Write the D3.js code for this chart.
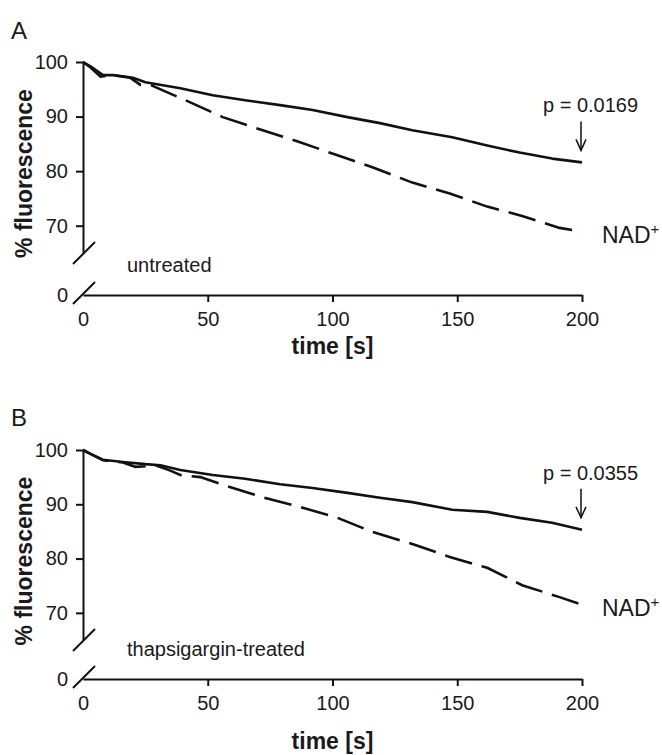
<!DOCTYPE html>
<html>
<head>
<meta charset="utf-8">
<script src="https://cdn.jsdelivr.net/npm/d3@7"></script>
<style>
  body { margin: 0; background: #fff; }
  svg { display: block; font-family: "Liberation Sans", Arial, sans-serif; }
  .axis path, .axis line { stroke: #111; stroke-width: 2; }
  .axis text { font-size: 20px; fill: #1a1a1a; }
</style>
</head>
<body>
<svg id="chart" width="662" height="755"></svg>
<script>
'use strict';

// tick values
var xTicks = [0, 50, 100, 150, 200];
var yTicks = [70, 80, 90, 100];

// panel A, untreated: [time s, % fluorescence]
var untreatedControl = [[0, 100], [3, 99.2], [8, 97.6], [12, 97.6], [20, 97.1], [25, 96.3],
  [39, 95.2], [52, 93.9], [65, 93.0], [79, 92.1], [92, 91.2], [106, 89.9], [119, 88.8],
  [132, 87.5], [148, 86.2], [162, 84.7], [175, 83.4], [188, 82.3], [200, 81.6]];
var untreatedNad = [[0, 100], [3, 99.0], [7, 97.3], [12, 97.6], [19, 97.1], [23, 95.8],
  [27, 95.8], [32, 94.8], [43, 92.6], [56, 89.9], [72, 87.5], [87, 85.3], [102, 82.9],
  [116, 80.7], [132, 77.9], [147, 75.9], [162, 73.5], [176, 71.8], [191, 69.6], [200, 68.9]];

// panel B, thapsigargin-treated
var thapsiControl = [[0, 100], [3, 99.3], [8, 98.2], [16, 97.8], [25, 97.4], [31, 97.2],
  [39, 96.3], [52, 95.4], [65, 94.7], [79, 93.7], [92, 93.0], [106, 92.1], [119, 91.2],
  [132, 90.4], [148, 89.0], [162, 88.6], [175, 87.5], [188, 86.6], [200, 85.3]];
var thapsiNad = [[0, 100], [3, 99.3], [8, 98.1], [16, 97.7], [21, 96.9], [25, 97.0],
  [29, 97.2], [35, 96.2], [39, 95.4], [47, 95.0], [56, 93.6], [72, 91.3], [87, 89.5],
  [102, 87.5], [116, 84.9], [132, 82.7], [147, 80.3], [162, 78.3], [176, 75.1],
  [191, 72.9], [200, 71.5]];

var panels = [
  { letter: 'A', note: 'untreated', p: 'p = 0.0169', solid: untreatedControl, dashed: untreatedNad,
    y100: 62, yBreak: 253, axisY: 295, titleY: 354, letterY: 39 },
  { letter: 'B', note: 'thapsigargin-treated', p: 'p = 0.0355', solid: thapsiControl, dashed: thapsiNad,
    y100: 450, yBreak: 640, axisY: 679, titleY: 749, letterY: 426 }
];

var svg = d3.select('#chart');
var axisX = 83;
var x = d3.scaleLinear().domain([0, 200]).range([axisX, 582]);

panels.forEach(function(pn) {
  var g = svg.append('g');
  var y = d3.scaleLinear().domain([65, 100]).range([pn.yBreak, pn.y100]);

  var line = d3.line()
    .x(function(d) { return x(d[0]); })
    .y(function(d) { return y(d[1]); });

  // y axis (upper segment)
  g.append('g').attr('class', 'axis')
    .attr('transform', 'translate(' + axisX + ',0)')
    .call(d3.axisLeft(y).tickValues(yTicks).tickSize(7).tickPadding(8).tickSizeOuter(0));

  // x axis
  var xa = g.append('g').attr('class', 'axis')
    .attr('transform', 'translate(0,' + pn.axisY + ')')
    .call(d3.axisBottom(x).tickValues(xTicks).tickSize(7).tickPadding(10).tickSizeOuter(0));
  xa.selectAll('.tick').filter(function(d) { return d === 0; }).select('line').remove();
  g.selectAll('.axis .domain').attr('fill', 'none');

  // axis break slashes
  [[pn.yBreak, 11, -11], [pn.axisY, 9, -13]].forEach(function(b) {
    g.append('line')
      .attr('x1', axisX - 10).attr('y1', b[0] + b[1])
      .attr('x2', axisX + 12).attr('y2', b[0] + b[2])
      .attr('stroke', '#111').attr('stroke-width', 2);
  });
  g.append('text').attr('x', 68).attr('y', pn.axisY).attr('dy', '0.35em')
    .attr('text-anchor', 'end').style('font-size', '20px').attr('fill', '#1a1a1a').text('0');

  // curves
  g.append('path').datum(pn.solid).attr('d', line)
    .attr('fill', 'none').attr('stroke', '#111').attr('stroke-width', 2.6)
    .attr('stroke-linejoin', 'round');
  g.append('path').datum(pn.dashed).attr('d', line)
    .attr('fill', 'none').attr('stroke', '#111').attr('stroke-width', 2.6)
    .attr('stroke-dasharray', '28,10');

  // p value with arrow
  var endX = x(200) - 1;
  var tip = y(pn.solid[pn.solid.length - 1][1]) - 12;
  g.append('line').attr('x1', endX).attr('x2', endX).attr('y1', tip - 29).attr('y2', tip)
    .attr('stroke', '#111').attr('stroke-width', 1.5);
  g.append('path').attr('d', 'M' + (endX - 5) + ',' + (tip - 11) + 'L' + endX + ',' + tip + 'L' + (endX + 5) + ',' + (tip - 11))
    .attr('fill', 'none').attr('stroke', '#111').attr('stroke-width', 1.5);
  g.append('text').attr('x', 543).attr('y', tip - 38)
    .style('font-size', '20px').attr('fill', '#1a1a1a').text(pn.p);

  // NAD+ label
  var nad = g.append('text').attr('x', 602).attr('y', y(pn.dashed[pn.dashed.length - 1][1]) + 11)
    .style('font-size', '23px').attr('fill', '#1a1a1a');
  nad.append('tspan').text('NAD');
  nad.append('tspan').attr('dy', -9).style('font-size', '15px').text('+');

  // condition note
  g.append('text').attr('x', 127).attr('y', pn.axisY - 23)
    .style('font-size', '20px').attr('fill', '#1a1a1a').text(pn.note);

  // panel letter
  g.append('text').attr('x', 11).attr('y', pn.letterY)
    .style('font-size', '24px').attr('fill', '#1a1a1a').text(pn.letter);

  // axis titles
  g.append('text').attr('x', x(100)).attr('y', pn.titleY).attr('text-anchor', 'middle')
    .style('font-size', '23px').style('font-weight', 'bold').attr('fill', '#1a1a1a').text('time [s]');
  g.append('text')
    .attr('transform', 'translate(32,' + ((pn.y100 + pn.yBreak) / 2 + 16) + ') rotate(-90)')
    .attr('text-anchor', 'middle')
    .style('font-size', '23px').style('font-weight', 'bold').attr('fill', '#1a1a1a').text('% fluorescence');
});
</script>
</body>
</html>
